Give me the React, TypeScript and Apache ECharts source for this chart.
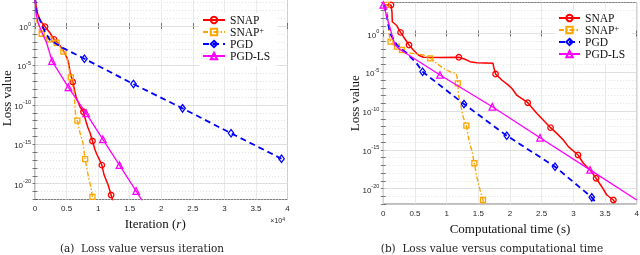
import { useEffect, useRef } from 'react';
import * as echarts from 'echarts';

type Pt = [number, number];

const seriesNames = ['SNAP', 'SNAP+', 'PGD', 'PGD-LS'];
const seriesColors = ['#ff0000', '#ffa500', '#0000ff', '#ff00ff'];
const majorExponents = [0, -5, -10, -15, -20];

// (a) loss value versus iteration  [iteration, loss]
const snapIter: Pt[] = [[0, 4.0e3], [320, 6.0e1], [790, 5.8], [1590, 8.1e-1], [2380, 1.3e-1], [3020, 2.0e-2], [3650, 6.9e-3], [4440, 9.1e-4], [5080, 8.7e-5], [5320, 2.0e-5], [5560, 1.5e-6], [5980, 7.9e-8], [6270, 7.6e-9], [6510, 1.0e-9], [6830, 2.3e-10], [7140, 5.4e-11], [7670, 1.35e-11], [8100, 6.8e-13], [8410, 1.15e-13], [8730, 2.7e-14], [9100, 2.6e-15], [9520, 1.9e-16], [9840, 4.4e-17], [10160, 1.35e-17], [10590, 2.3e-18], [10950, 1.26e-19], [11270, 3.0e-20], [11590, 6.9e-21], [12060, 3.7e-22], [12330, 6.3e-23]];
const snapIterMarks = [3, 5, 11, 16, 20, 24, 28];

const snapPlusIter: Pt[] = [[0, 4.0e3], [320, 3.2], [710, 3.1e-1], [1060, 1.05e-1], [1590, 4.0e-2], [2270, 2.0e-2], [2860, 1.26e-2], [3440, 7.6e-3], [3970, 2.2e-3], [4490, 5.5e-4], [4920, 2.1e-4], [5240, 2.0e-5], [5480, 1.5e-6], [5670, 3.1e-7], [5950, 3.3e-8], [6190, 4.3e-9], [6270, 4.2e-10], [6350, 4.0e-11], [6460, 3.9e-12], [6710, 9.8e-13], [7140, 2.5e-14], [7570, 2.1e-15], [7940, 1.35e-17], [8460, 7.8e-20], [8840, 4.2e-21], [9100, 2.2e-22], [9210, 6.3e-23]];
const snapPlusIterMarks = [3, 5, 7, 9, 13, 19, 22, 25];

const pgdIter: Pt[] = [[0, 4.0e3], [270, 6.0e1], [790, 5.8], [1590, 1.74e-1], [2380, 1.66e-2], [3170, 6.9e-3], [4290, 1.86e-3], [7830, 7.1e-5], [15600, 4.4e-8], [23380, 3.6e-11], [31060, 2.5e-14], [39050, 1.48e-17]];
const pgdIterMarks = [7, 8, 9, 10, 11];

const pgdLsIter: Pt[] = [[0, 4.0e3], [160, 4.1e1], [520, 2.2], [1060, 1.9e-1], [1860, 6.5e-3], [2700, 3.6e-5], [5290, 1.7e-8], [8100, 8.5e-12], [10750, 4.3e-15], [13380, 2.3e-18], [16030, 1.17e-21], [17060, 5.5e-23]];
const pgdLsIterMarks = [5, 6, 7, 8, 9, 10];

// (b) loss value versus computational time  [seconds, loss]
const snapTime: Pt[] = [[0, 4.8e3], [0.122, 4.8e3], [0.137, 5.9e2], [0.142, 3.3e1], [0.212, 1.07e1], [0.272, 1.4], [0.343, 1.95e-1], [0.406, 3.3e-2], [0.474, 7.4e-3], [0.553, 1.7e-3], [0.632, 8.5e-4], [0.895, 7.9e-4], [1.192, 8.5e-4], [1.29, 4.7e-4], [1.369, 2.3e-4], [1.475, 1.7e-4], [1.732, 1.4e-4], [1.748, 3.2e-5], [1.772, 5.9e-6], [1.87, 1.0e-6], [1.974, 2.2e-7], [2.027, 8.5e-8], [2.106, 1.15e-8], [2.28, 1.17e-9], [2.422, 5.0e-11], [2.64, 7.1e-13], [2.738, 1.3e-13], [2.842, 1.8e-14], [2.921, 2.5e-15], [3.074, 2.1e-16], [3.158, 1.8e-17], [3.264, 2.5e-18], [3.359, 2.1e-19], [3.449, 1.7e-20], [3.528, 1.45e-21], [3.632, 3.3e-22], [3.659, 1.35e-22]];
const snapTimeMarks = [1, 5, 7, 12, 18, 23, 25, 29, 32, 35];

const snapPlusTime: Pt[] = [[0, 4.8e3], [0.054, 4.8e3], [0.074, 5.5e1], [0.09, 1.07], [0.114, 8.7e-2], [0.158, 3.3e-2], [0.216, 2.0e-2], [0.264, 9.1e-3], [0.295, 7.4e-3], [0.369, 3.7e-3], [0.527, 2.2e-3], [0.632, 1.7e-3], [0.742, 6.3e-4], [0.843, 1.4e-4], [0.947, 3.2e-5], [1.053, 1.17e-5], [1.148, 7.2e-6], [1.168, 1.66e-6], [1.176, 3.7e-7], [1.187, 8.7e-9], [1.211, 2.6e-9], [1.238, 1.35e-10], [1.263, 1.45e-11], [1.311, 1.26e-12], [1.342, 4.8e-14], [1.369, 4.1e-15], [1.396, 9.3e-16], [1.437, 1.8e-17], [1.475, 3.3e-19], [1.527, 6.5e-21], [1.574, 3.3e-22], [1.59, 1.0e-22]];
const snapPlusTimeMarks = [1, 4, 6, 8, 12, 18, 23, 27, 30];

const pgdTime: Pt[] = [[0, 4.8e3], [0.027, 2.6e3], [0.106, 1.07], [0.212, 3.3e-2], [0.369, 2.8e-3], [0.527, 1.4e-4], [0.62, 1.17e-5], [1.274, 7.9e-10], [1.949, 6.5e-14], [2.711, 6.5e-18], [3.291, 7.2e-22], [3.37, 1.0e-22]];
const pgdTimeMarks = [6, 7, 8, 9, 10];

const pgdLsTime: Pt[] = [[0, 4.8e3], [0.027, 1.07e3], [0.079, 3.0e1], [0.133, 8.7e-1], [0.185, 3.3e-2], [0.264, 8.7e-3], [0.895, 4.5e-6], [1.721, 3.5e-10], [2.474, 3.5e-14], [3.264, 2.5e-18], [4.001, 3.3e-22]];
const pgdLsTimeMarks = [0, 6, 7, 8, 9];

const SERIF = "'Liberation Serif', 'DejaVu Serif', serif";
const CAPTION_SERIF = "'DejaVu Serif', 'Liberation Serif', serif";
const SANS = "'Liberation Sans', Arial, sans-serif";
const INK = '#262626';

const symbols = ['circle', 'rect', 'diamond', 'triangle'];
const symbolSizes: any[] = [5.5, 5, [5.5, 7.5], 6.5];
const lineStyles: any[] = [
  { type: 'solid', width: 1.5 },
  { type: [5, 2, 1.5, 2], width: 1.4 },
  { type: [6, 4], width: 1.8 },
  { type: 'solid', width: 1.3 },
];

// the y axes are decades: each point is placed at log10(loss)
function makeSeries(k: number, pts: Pt[], marks: number[], gi: number) {
  const s: any = {
    type: 'line',
    name: seriesNames[k],
    xAxisIndex: gi * 2,
    yAxisIndex: gi * 2,
    data: pts.map((p, i) => {
      const v = [p[0], Math.log10(p[1])];
      return marks.includes(i) ? { value: v } : { value: v, symbol: 'none' };
    }),
    symbol: symbols[k],
    symbolSize: symbolSizes[k],
    showSymbol: true,
    showAllSymbol: true,
    clip: true,
    z: 3 + k,
    lineStyle: { color: seriesColors[k], ...lineStyles[k] },
    itemStyle: { color: 'rgba(255,255,255,0)', borderColor: seriesColors[k], borderWidth: 1.3 },
    emphasis: { disabled: true },
  };
  if (k === 0) {
    s.markLine = {
      z: 1, silent: true, symbol: 'none', label: { show: false },
      lineStyle: { color: '#d9d9d9', type: 'solid', width: 0.8 },
      emphasis: { disabled: true },
      data: majorExponents.map((e) => ({ yAxis: e })),
    };
  }
  return s;
}

function expLabel(v: number) {
  const e = Math.round(v);
  if (Math.abs(v - e) > 0.01) return '';
  if (!majorExponents.includes(e)) return '';
  return '{b|10}{s|' + (e === 0 ? '0' : String(e)) + '}';
}

function xAxisPair(gi: number, max: number, interval: number, name: string, nameGap: number, fmt: (v: number) => string, namePad: number[]) {
  return [
    {
      type: 'value', gridIndex: gi, min: 0, max, interval, position: 'bottom',
      axisLine: { show: false },
      axisTick: { show: true, inside: true, length: 3, lineStyle: { color: INK, width: 0.6 } },
      axisLabel: { formatter: fmt, fontFamily: SANS, fontSize: 8, color: INK, margin: 5 },
      splitLine: { show: true, lineStyle: { color: '#e4e4e4', width: 0.8 } },
      name, nameLocation: 'middle', nameGap,
      nameTextStyle: {
        fontFamily: SERIF, fontSize: 13, color: '#111', padding: namePad,
        rich: { i: { fontFamily: SERIF, fontSize: 13, fontStyle: 'italic', color: '#111' } },
      },
    },
    {
      type: 'value', gridIndex: gi, min: 0, max, interval, position: 'top',
      axisLine: { show: false },
      axisTick: { show: true, inside: true, length: 3, lineStyle: { color: INK, width: 0.6 } },
      axisLabel: { show: false },
      splitLine: { show: false },
    },
  ];
}

function yAxisPair(gi: number, max: number, nameGap: number) {
  return [
    {
      type: 'value', gridIndex: gi, min: -22, max, interval: 1, position: 'left',
      axisLine: { show: false },
      axisTick: { show: true, inside: true, length: 2.5, lineStyle: { color: INK, width: 0.6 } },
      axisLabel: {
        formatter: expLabel, margin: 4, color: INK,
        rich: {
          b: { fontFamily: SANS, fontSize: 8, color: INK, verticalAlign: 'bottom', lineHeight: 11 },
          s: { fontFamily: SANS, fontSize: 5.5, color: INK, verticalAlign: 'top', lineHeight: 7 },
        },
      },
      splitLine: { show: true, lineStyle: { color: '#d6d6d6', type: [1, 2], width: 0.7 } },
      name: 'Loss value', nameLocation: 'middle', nameGap, nameMoveOverlap: false,
      nameTextStyle: { fontFamily: SERIF, fontSize: 13, color: '#111' },
    },
    {
      type: 'value', gridIndex: gi, min: -22, max, interval: 1, position: 'right',
      axisLine: { show: false },
      axisTick: { show: true, inside: true, length: 2.5, lineStyle: { color: INK, width: 0.6 } },
      axisLabel: { show: false },
      splitLine: { show: false },
    },
  ];
}

function legendAt(left: number, top: number, itemWidth: number) {
  return {
    data: seriesNames, orient: 'vertical', left, top, itemWidth, itemHeight: 8, itemGap: 0,
    padding: [1, 7, 4, 3], backgroundColor: '#fff', selectedMode: false,
    formatter: (n: string) => (n === 'SNAP+' ? 'SNAP{sup|+}' : n),
    textStyle: {
      fontFamily: SERIF, fontSize: 11.5, color: '#111', lineHeight: 11,
      rich: { sup: { fontFamily: SERIF, fontSize: 8, color: '#111', verticalAlign: 'top', lineHeight: 7 } },
    },
  };
}

export default function App() {
  const ref = useRef<HTMLDivElement>(null);
  useEffect(() => {
    const chart = echarts.init(ref.current!, null, { renderer: 'svg' });
    const option: any = {
      animation: false,
      grid: [
        { left: 35, right: 352.5, top: -3, bottom: 55.5, show: true, borderColor: INK, borderWidth: 0.6, backgroundColor: 'transparent', containLabel: false, outerBoundsMode: 'none' },
        { left: 383.3, right: 3.3, top: 2.5, bottom: 51, show: true, borderColor: INK, borderWidth: 0.6, backgroundColor: 'transparent', containLabel: false, outerBoundsMode: 'none' },
      ],
      xAxis: [
        ...xAxisPair(0, 40000, 5000, 'Iteration ({i|r})', 16, (v: number) => String(v / 10000), [0, 12, 0, 0]),
        ...xAxisPair(1, 4, 0.5, 'Computational time (s)', 15, (v: number) => String(v), [0, 0, 0, 0]),
      ],
      yAxis: [...yAxisPair(0, 3.68, 22), ...yAxisPair(1, 4, 22)],
      legend: [legendAt(199, 13, 22), legendAt(555, 11, 21)],
      graphic: [
        {
          type: 'text', x: 285, y: 220,
          style: {
            text: '×10{s|4}', align: 'right', verticalAlign: 'middle', fontFamily: SANS, fontSize: 7, fill: INK,
            rich: { s: { fontFamily: SANS, fontSize: 5, fill: INK, verticalAlign: 'top', lineHeight: 6 } },
          },
        },
        {
          type: 'text', x: 142, y: 248,
          style: { text: '(a)  Loss value versus iteration', align: 'center', verticalAlign: 'middle', fontFamily: CAPTION_SERIF, fontSize: 10.5, fill: '#222' },
        },
        {
          type: 'text', x: 492, y: 248,
          style: { text: '(b)  Loss value versus computational time', align: 'center', verticalAlign: 'middle', fontFamily: CAPTION_SERIF, fontSize: 10.5, fill: '#222' },
        },
      ],
      series: [
        makeSeries(0, snapIter, snapIterMarks, 0),
        makeSeries(1, snapPlusIter, snapPlusIterMarks, 0),
        makeSeries(2, pgdIter, pgdIterMarks, 0),
        makeSeries(3, pgdLsIter, pgdLsIterMarks, 0),
        makeSeries(0, snapTime, snapTimeMarks, 1),
        makeSeries(1, snapPlusTime, snapPlusTimeMarks, 1),
        makeSeries(2, pgdTime, pgdTimeMarks, 1),
        makeSeries(3, pgdLsTime, pgdLsTimeMarks, 1),
      ],
    };
    chart.setOption(option);
    return () => chart.dispose();
  }, []);
  return <div ref={ref} style={{ position: 'fixed', left: 0, top: 0, width: 640, height: 255 }} />;
}
